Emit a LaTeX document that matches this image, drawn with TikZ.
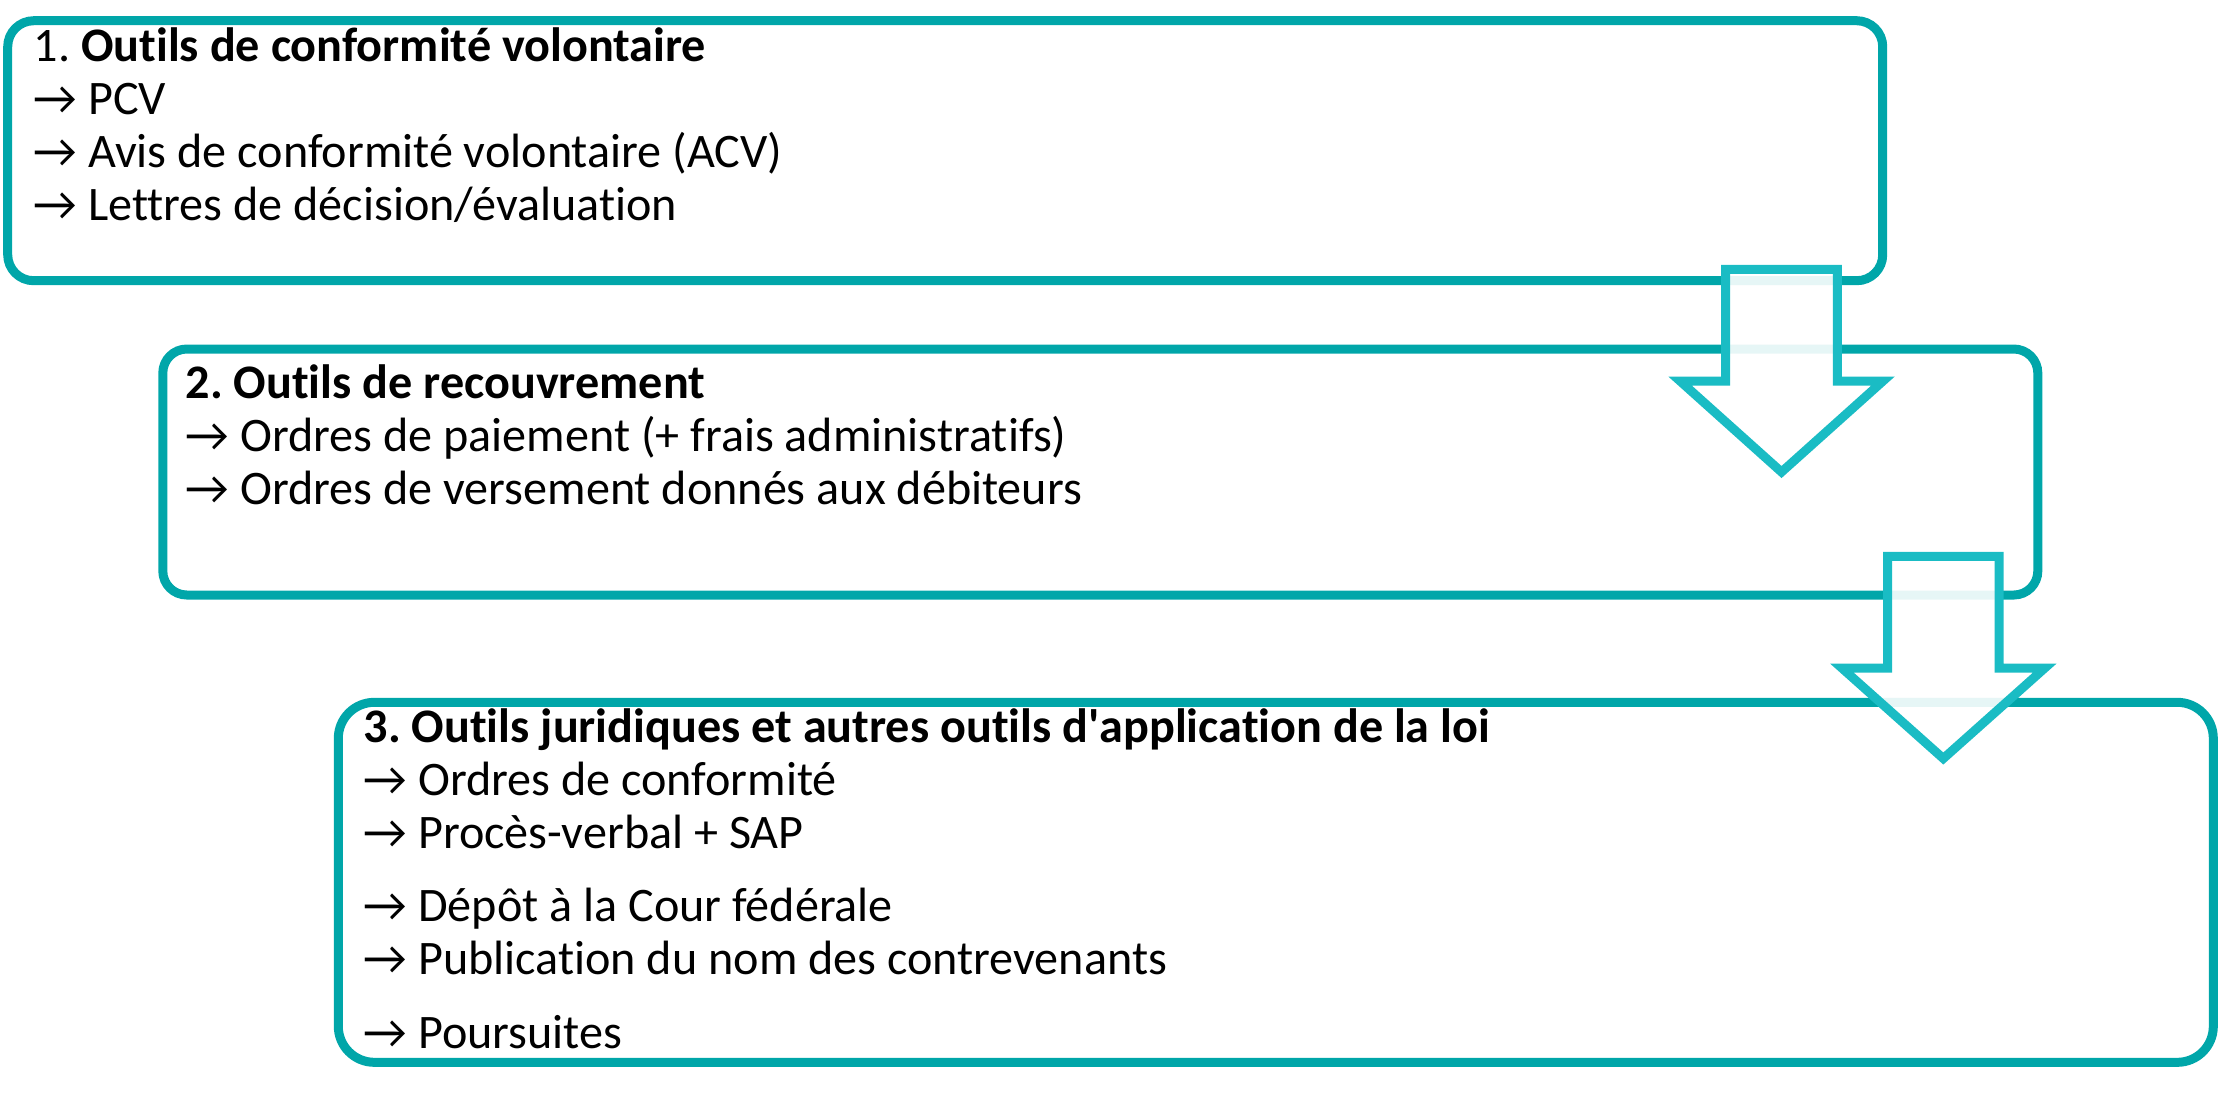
\documentclass[tikz,border=0pt]{standalone}
\usepackage{fontspec}
\setmainfont{Carlito}[Ligatures={NoCommon}]
\newfontfamily\droit{Carlito}
\usetikzlibrary{positioning}
\definecolor{sarcelle}{HTML}{00A6A9}
\definecolor{turquoise}{HTML}{1ABCC4}

\begin{document}
\frenchspacing
\begin{tikzpicture}[x=0.1mm,y=-0.1mm]
	\tikzstyle{boite}=[draw=sarcelle,line width=0.9mm,rectangle,inner sep=0pt,outer sep=0pt,minimum width=187.5mm]
	\tikzstyle{texte}=[align=left,anchor=base west,inner sep=0pt,font=\fontsize{13.7}{15}\selectfont]
	\tikzstyle{fleche}=[draw=turquoise,line width=0.9mm,fill=white,fill opacity=0.9,miter limit=10]

	\useasboundingbox (0,0) rectangle (2219,1092);

	% les trois cadres
	\node[boite,minimum height=26mm,rounded corners=2.6mm]   (B_1) at (945.2,150.7)  {};
	\node[boite,minimum height=24.6mm,rounded corners=2.4mm] (B_2) at (1100.3,472)   {};
	\node[boite,minimum height=36mm,rounded corners=3.6mm]   (B_3) at (1275.8,882.3) {};

	% textes (ancres sur la ligne de base de la derniere ligne)
	\node[texte] (T_1) at (33,220) {1. \textbf{Outils de conformité volontaire}\\
		→ PCV\\
		→ Avis de conformité volontaire (ACV)\\
		→ Lettres de décision/évaluation};
	\node[texte] (T_2) at (185,504.4) {\textbf{2. Outils de recouvrement}\\
		→ Ordres de paiement (+ frais administratifs)\\
		→ Ordres de versement donnés aux débiteurs};
	\node[texte] (T_3) at (363,1048.3) {\textbf{3. Outils juridiques et autres outils d{\droit '}application de la loi}\\
		→ Ordres de conformité\\
		→ Procès-verbal + SAP\\[2.1mm]
		→ Dépôt à la Cour fédérale\\
		→ Publication du nom des contrevenants\\[2.1mm]
		→ Poursuites};

	% fleches
	\draw[fleche,shift={(1781.5,269.3)}] (-55.8,0) -- (55.8,0) -- (55.8,111.7) -- (101.5,111.7)
		-- (0,202.7) -- (-101.5,111.7) -- (-55.8,111.7) -- cycle;
	\draw[fleche,shift={(1943.3,556.3)}] (-55.8,0) -- (55.8,0) -- (55.8,111.7) -- (101.5,111.7)
		-- (0,202.2) -- (-101.5,111.7) -- (-55.8,111.7) -- cycle;
\end{tikzpicture}
\end{document}
